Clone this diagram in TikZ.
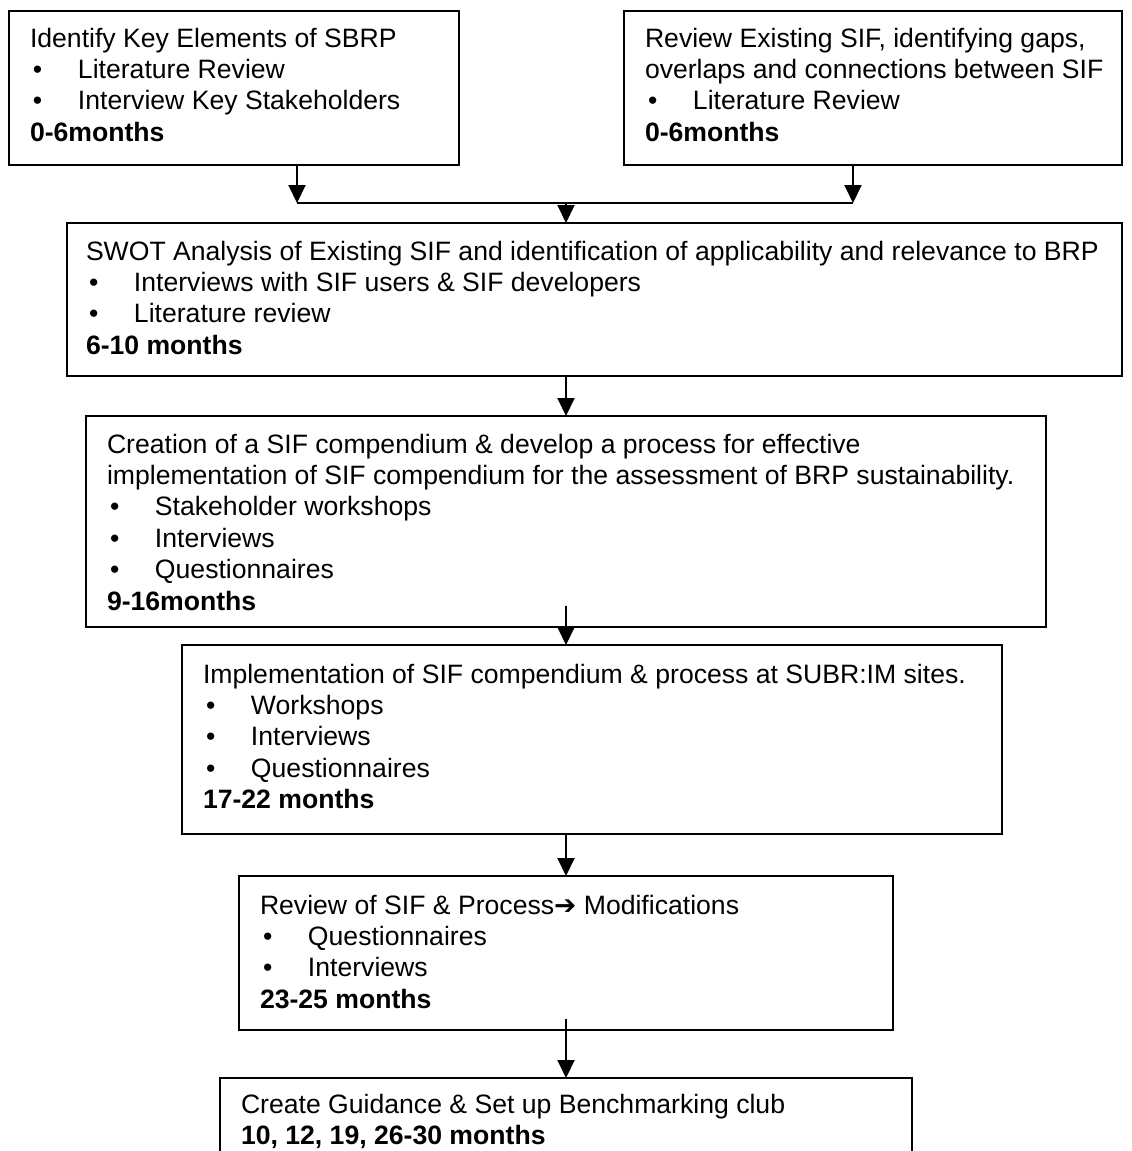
\documentclass[tikz,border=0pt]{standalone}
\usepackage{fontspec}
\setmainfont{Liberation Sans}
\newfontfamily\dejavu{DejaVu Sans}
\usetikzlibrary{arrows.meta}
\newcommand\itm[1]{\makebox[24pt][l]{\hspace{1.5pt}\textbullet}#1}
\newcommand\boxtext[1]{\parbox[t]{540pt}{\fontsize{13.3pt}{15.7pt}\selectfont #1}}
\tikzset{
  box/.style={draw=black, line width=1pt, inner sep=0pt, outer sep=0pt, anchor=north west},
  txt/.style={inner sep=0pt, outer sep=0pt, anchor=base west},
  conn/.style={draw=black, line width=1pt},
  arr/.style={conn, -{Triangle[length=9pt,width=8.5pt]}}
}
\begin{document}
\begin{tikzpicture}[x=0.5pt,y=-0.5pt]
\clip (0,0) rectangle (1131,1151);
\fill[white] (0,0) rectangle (1131,1151);
% boxes
\node[box, minimum width=225pt, minimum height=77pt] (b1) at (9,11) {};
\node[box, minimum width=249pt, minimum height=77pt] (b2) at (624,11) {};
\node[box, minimum width=527.5pt, minimum height=76.5pt] (b3) at (67,223) {};
\node[box, minimum width=480pt, minimum height=105.5pt] (b4) at (86,416) {};
\node[box, minimum width=410pt, minimum height=94.5pt] (b5) at (182,645) {};
\node[box, minimum width=327pt, minimum height=77pt] (b6) at (239,876) {};
\node[box, minimum width=346pt, minimum height=60pt] (b7) at (220,1078) {};
% texts
\node[txt] (t1) at (30,47) {\boxtext{Identify Key Elements of SBRP\\
\itm{Literature Review}\\
\itm{Interview Key Stakeholders}\\
\textbf{0-6months}}};
\node[txt] (t2) at (645,47) {\boxtext{Review Existing SIF, identifying gaps,\\
overlaps and connections between SIF\\
\itm{Literature Review}\\
\textbf{0-6months}}};
\node[txt] (t3) at (86,260) {\boxtext{SWOT Analysis of Existing SIF and identification of applicability and relevance to BRP\\
\itm{Interviews with SIF users \& SIF developers}\\
\itm{Literature review}\\
\textbf{6-10 months}}};
\node[txt] (t4) at (107,453) {\boxtext{Creation of a SIF compendium \& develop a process for effective\\
implementation of SIF compendium for the assessment of BRP sustainability.\\
\itm{Stakeholder workshops}\\
\itm{Interviews}\\
\itm{Questionnaires}\\
\textbf{9-16months}}};
\node[txt] (t5) at (203,683) {\boxtext{Implementation of SIF compendium \& process at SUBR:IM sites.\\
\itm{Workshops}\\
\itm{Interviews}\\
\itm{Questionnaires}\\
\textbf{17-22 months}}};
\node[txt] (t6) at (260,914) {\boxtext{Review of SIF \& Process{\dejavu ➔} Modifications\\
\itm{Questionnaires}\\
\itm{Interviews}\\
\textbf{23-25 months}}};
\node[txt] (t7) at (241,1113) {\boxtext{Create Guidance \& Set up Benchmarking club\\
\textbf{10, 12, 19, 26-30 months}}};
% connectors
\coordinate (j1) at (297,203);
\coordinate (j2) at (853,203);
\coordinate (jm) at (566,203);
\draw[arr] (j1 |- b1.south) -- (j1);
\draw[arr] (j2 |- b2.south) -- (j2);
\draw[conn] (j1) -- (j2);
\draw[arr] (jm) -- (jm |- b3.north);
\draw[arr] (b4.north |- b3.south) -- (b4.north);
\coordinate (s45) at (566,606);
\draw[arr] (s45) -- (s45 |- b5.north);
\draw[arr] (b6.north |- b5.south) -- (b6.north);
\coordinate (s67) at (566,1019);
\draw[arr] (s67) -- (s67 |- b7.north);
\end{tikzpicture}
\end{document}
